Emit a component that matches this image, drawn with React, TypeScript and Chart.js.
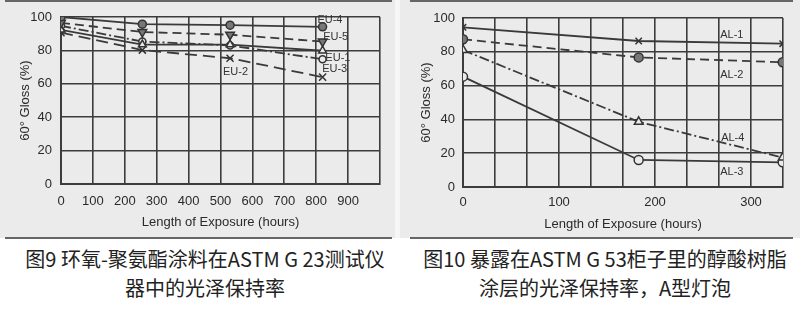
import React, { useEffect, useRef } from "react";
import { Chart, registerables } from "chart.js";

Chart.register(...registerables);

// ---------- Figure 9 data (ASTM G 23) ----------
const euHours = [0, 255, 530, 820];
const eu4 = [100, 95.7, 95.1, 94.1];
const eu5 = [96.5, 91, 89.4, 85.3];
const eu1 = [94.7, 85.3, 83, 74.7];
const eu2 = [92.3, 83.5, 83.5, 79.8];
const eu3 = [90.6, 80.2, 75.3, 64];
const euXTickLabels = [0, 100, 200, 300, 400, 500, 600, 700, 800, 900];
const euLabelTexts = ["EU-4", "EU-5", "EU-1", "EU-3", "EU-2"];
const euLabelX = [843, 861, 868, 858, 547];
const euLabelY = [98.5, 88, 75.7, 68.6, 67.2];

// ---------- Figure 10 data (ASTM G 53) ----------
const alHours = [0, 183, 333];
const al1 = [94.5, 86.4, 84.8];
const al2 = [87.4, 76.7, 73.8];
const al4 = [81, 38.6, 17.4];
const al3 = [65.3, 16, 14.6];
const alXTickLabels = [0, 100, 200, 300];
const alLabelTexts = ["AL-1", "AL-2", "AL-4", "AL-3"];
const alLabelX = [280, 280, 281, 280];
const alLabelY = [90, 66.3, 28.8, 8.7];

const yTickLabels = [0, 20, 40, 60, 80, 100];

const yTitle = "60° Gloss (%)";
const xTitle = "Length of Exposure (hours)";
const caption9 = ["图9 环氧-聚氨酯涂料在ASTM G 23测试仪", "器中的光泽保持率"];
const caption10 = ["图10 暴露在ASTM G 53柜子里的醇酸树脂", "涂层的光泽保持率，A型灯泡"];

const FONT_FAMILY = '"Liberation Sans", Arial, sans-serif';
const INK = "#2a2a2a";
const GRID = "#3c3c3c";
const BG = "#ebebeb";

function makeLabelPlugin(texts: string[], xs: number[], ys: number[]) {
  return {
    id: "textLabels",
    afterDatasetsDraw(chart: any) {
      const { ctx, scales } = chart;
      ctx.save();
      ctx.font = `11px ${FONT_FAMILY}`;
      ctx.fillStyle = "#333";
      ctx.textAlign = "center";
      ctx.textBaseline = "middle";
      texts.forEach((t, i) => {
        ctx.fillText(t, scales.x.getPixelForValue(xs[i]), scales.y.getPixelForValue(ys[i]));
      });
      ctx.restore();
    },
  };
}

const bgPlugin = {
  id: "bgFill",
  beforeDraw(chart: any) {
    const { ctx, width, height } = chart;
    ctx.save();
    ctx.fillStyle = BG;
    ctx.fillRect(0, 0, width, height);
    ctx.restore();
  },
};

type Geo = {
  padRight: number;
  padTop: number;
  yWidth: number;
  xHeight: number;
  yTickPad: number;
  yTitlePad: number;
  xTickPad: number;
  xTitlePad: number;
};

function series(
  label: string,
  xs: number[],
  ys: number[],
  style: { dash?: number[]; point: string; rot?: number; fill: string; radius: number }
) {
  return {
    label,
    data: xs.map((x, i) => ({ x, y: ys[i] })),
    borderColor: "#3a3a3a",
    borderWidth: 1.8,
    borderDash: style.dash || [],
    pointStyle: style.point,
    pointRotation: style.rot || 0,
    pointRadius: style.radius,
    pointBackgroundColor: style.fill,
    pointBorderColor: "#333",
    pointBorderWidth: 1.5,
    fill: false,
    tension: 0,
  };
}

function buildOptions(geo: Geo, xMax: number, xGrid: number[], xLabels: number[]) {
  const tickFont = { family: FONT_FAMILY, size: 13 };
  return {
    responsive: false,
    animation: false,
    devicePixelRatio: 1,
    layout: { padding: { left: 0, right: geo.padRight, top: geo.padTop, bottom: 0 } },
    plugins: { legend: { display: false }, tooltip: { enabled: false } },
    scales: {
      x: {
        type: "linear",
        min: 0,
        max: xMax,
        afterBuildTicks: (s: any) => {
          s.ticks = xGrid.map((v) => ({ value: v }));
        },
        afterFit: (s: any) => {
          s.height = geo.xHeight;
        },
        ticks: {
          autoSkip: false,
          maxRotation: 0,
          padding: geo.xTickPad,
          color: INK,
          font: tickFont,
          callback: (v: number) => {
            const r = Math.round(v);
            return Math.abs(v - r) < 0.01 && xLabels.includes(r) ? String(r) : "";
          },
        },
        grid: { color: GRID, lineWidth: 1.6, drawTicks: false },
        border: { color: GRID, width: 2 },
        title: {
          display: true,
          text: xTitle,
          color: INK,
          font: tickFont,
          padding: { top: 0, bottom: geo.xTitlePad },
        },
      },
      y: {
        type: "linear",
        min: 0,
        max: 100,
        afterBuildTicks: (s: any) => {
          s.ticks = yTickLabels.map((v) => ({ value: v }));
        },
        afterFit: (s: any) => {
          s.width = geo.yWidth;
        },
        ticks: { padding: geo.yTickPad, color: INK, font: tickFont },
        grid: { color: GRID, lineWidth: 1.6, drawTicks: false },
        border: { color: GRID, width: 2 },
        title: {
          display: true,
          text: yTitle,
          color: INK,
          font: tickFont,
          padding: { top: geo.yTitlePad, bottom: 0 },
        },
      },
    },
  };
}

function Fig9() {
  const ref = useRef<HTMLCanvasElement>(null);
  useEffect(() => {
    const xGrid = Array.from({ length: 11 }, (_, i) => i * 100);
    const chart = new Chart(ref.current as HTMLCanvasElement, {
      type: "line",
      data: {
        datasets: [
          series("EU-4", euHours, eu4, { point: "circle", fill: "#777", radius: 4 }),
          series("EU-5", euHours, eu5, { point: "triangle", rot: 180, fill: "#777", radius: 5, dash: [9, 5] }),
          series("EU-2", euHours, eu2, { point: "triangle", fill: BG, radius: 4.5 }),
          series("EU-1", euHours, eu1, { point: "circle", fill: BG, radius: 3.5, dash: [10, 3, 2, 3] }),
          series("EU-3", euHours, eu3, { point: "crossRot", fill: BG, radius: 5, dash: [12, 6] }),
        ],
      },
      options: buildOptions(
        { padRight: 15, padTop: 17, yWidth: 61, xHeight: 52, yTickPad: 9, yTitlePad: 18, xTickPad: 10, xTitlePad: 6 },
        1000,
        xGrid,
        euXTickLabels
      ) as any,
      plugins: [bgPlugin, makeLabelPlugin(euLabelTexts, euLabelX, euLabelY)],
    });
    return () => chart.destroy();
  }, []);
  return <canvas ref={ref} width={395} height={236} style={{ position: "absolute", left: 0, top: 0 }} />;
}

function Fig10() {
  const ref = useRef<HTMLCanvasElement>(null);
  useEffect(() => {
    const xGrid = Array.from({ length: 11 }, (_, i) => (i * 100) / 3);
    const chart = new Chart(ref.current as HTMLCanvasElement, {
      type: "line",
      data: {
        datasets: [
          series("AL-1", alHours, al1, { point: "crossRot", fill: BG, radius: 4.5 }),
          series("AL-2", alHours, al2, { point: "circle", fill: "#777", radius: 4.5, dash: [9, 5] }),
          series("AL-4", alHours, al4, { point: "triangle", fill: BG, radius: 5, dash: [10, 3, 2, 3] }),
          series("AL-3", alHours, al3, { point: "circle", fill: BG, radius: 4.5 }),
        ],
      },
      options: buildOptions(
        { padRight: 17, padTop: 18, yWidth: 63, xHeight: 49, yTickPad: 8, yTitlePad: 19, xTickPad: 8, xTitlePad: 4 },
        1000 / 3,
        xGrid,
        alXTickLabels
      ) as any,
      plugins: [bgPlugin, makeLabelPlugin(alLabelTexts, alLabelX, alLabelY)],
    });
    return () => chart.destroy();
  }, []);
  return <canvas ref={ref} width={400} height={236} style={{ position: "absolute", left: 400, top: 0 }} />;
}

const rule = (left: number, top: number, width: number): React.CSSProperties => ({
  position: "absolute",
  left,
  top,
  width,
  height: 2,
  background: "#666",
});

const captionStyle = (left: number, width: number): React.CSSProperties => ({
  position: "absolute",
  left,
  top: 244,
  width,
  textAlign: "center",
  fontFamily: '"Noto Sans CJK SC", sans-serif',
  fontSize: 20,
  lineHeight: "29px",
  color: "#222",
  whiteSpace: "nowrap",
});

export default function App() {
  useEffect(() => {
    document.body.style.margin = "0";
  }, []);
  return (
    <div style={{ position: "fixed", left: 0, top: 0, width: 800, height: 328, background: "#fff", overflow: "hidden" }}>
      <div style={{ position: "absolute", left: 0, top: 0, width: 800, height: 238, background: BG }} />
      <div style={{ position: "absolute", left: 395, top: 0, width: 5, height: 238, background: "#f6f6f6" }} />
      <Fig9 />
      <Fig10 />
      <div style={rule(5, 0, 387)} />
      <div style={rule(410, 0, 383)} />
      <div style={rule(5, 237, 387)} />
      <div style={rule(410, 237, 383)} />
      <div style={captionStyle(0, 410)}>
        {caption9[0]}
        <br />
        {caption9[1]}
      </div>
      <div style={captionStyle(410, 390)}>
        {caption10[0]}
        <br />
        {caption10[1]}
      </div>
    </div>
  );
}
